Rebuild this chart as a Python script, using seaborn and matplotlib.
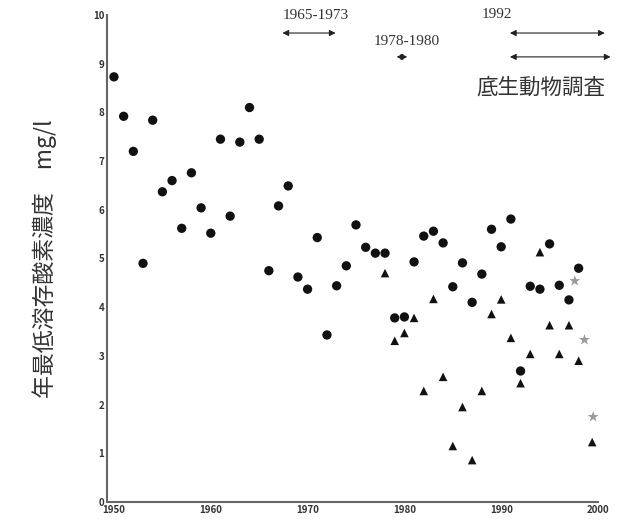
import pandas as pd
import numpy as np
import matplotlib
matplotlib.use('Agg')
import matplotlib.pyplot as plt
import seaborn as sns

# 年最低溶存酸素濃度 (mg/l) - 読み取り値
anos_circulo = list(range(1950, 1999))
valores_circulo = [8.73, 7.92, 7.20, 4.90, 7.84, 6.37, 6.60, 5.62, 6.76, 6.04,
                   5.52, 7.45, 5.87, 7.39, 8.10, 7.45, 4.75, 6.08, 6.49, 4.62,
                   4.37, 5.43, 3.43, 4.44, 4.85, 5.69, 5.23, 5.11, 5.11, 3.78,
                   3.80, 4.93, 5.46, 5.56, 5.32, 4.42, 4.91, 4.10, 4.68, 5.60,
                   5.24, 5.81, 2.69, 4.43, 4.37, 5.30, 4.45, 4.15, 4.80]

anos_triangulo = [1978, 1979, 1980, 1981, 1982, 1983, 1984, 1985, 1986, 1987, 1988,
                  1989, 1990, 1991, 1992, 1993, 1994, 1995, 1996, 1997, 1998, 1999.4]
valores_triangulo = [4.70, 3.31, 3.47, 3.78, 2.28, 4.17, 2.57, 1.15, 1.95, 0.86, 2.28,
                     3.86, 4.16, 3.37, 2.44, 3.04, 5.13, 3.63, 3.04, 3.63, 2.90, 1.23]

anos_estrela = [1997.6, 1998.6, 1999.5]
valores_estrela = [4.54, 3.33, 1.75]

# periodos de levantamento (inicio, fim, altura)
periodos = [(1967.4, 1972.9, 9.63), (1979.2, 1980.3, 9.14),
            (1990.9, 2000.7, 9.63), (1990.9, 2001.3, 9.14)]

df = pd.concat([
    pd.DataFrame({'ano': anos_circulo, 'valor': valores_circulo, 'tipo': 'c'}),
    pd.DataFrame({'ano': anos_triangulo, 'valor': valores_triangulo, 'tipo': 't'}),
    pd.DataFrame({'ano': anos_estrela, 'valor': valores_estrela, 'tipo': 's'}),
], ignore_index=True)

sns.set_style('white')
plt.rcParams['font.family'] = ['Noto Sans CJK JP', 'DejaVu Sans']

fig = plt.figure(figsize=(6.3, 5.25), dpi=100)
ax = fig.add_axes([107 / 630, 1 - 502 / 525, 491 / 630, 487 / 525])

sns.scatterplot(data=df, x='ano', y='valor', hue='tipo', style='tipo',
                hue_order=['c', 't', 's'], style_order=['c', 't', 's'],
                palette={'c': '#111111', 't': '#111111', 's': '#9a9a9a'},
                markers={'c': 'o', 't': '^', 's': '*'},
                size='tipo', sizes={'c': 45, 't': 38, 's': 70},
                edgecolor='none', legend=False, ax=ax, clip_on=False)

ax.set_xlim(1949.28, 2000)
ax.set_ylim(0, 10)
ax.set_xticks([1950, 1960, 1970, 1980, 1990, 2000])
ax.set_xticks([1955, 1965, 1975, 1985, 1995], minor=True)
ax.set_yticks(range(0, 11))
ax.tick_params(axis='both', which='both', direction='in', length=5, width=1,
               color='#555555', labelsize=7, pad=2)
for lab in ax.get_xticklabels() + ax.get_yticklabels():
    lab.set_fontweight('bold')
    lab.set_color('#333333')
for s in ['top', 'right']:
    ax.spines[s].set_visible(False)
for s in ['left', 'bottom']:
    ax.spines[s].set_color('#666666')
    ax.spines[s].set_linewidth(1.5)
ax.set_xlabel('')
ax.set_ylabel('年最低溶存酸素濃度　mg/l', fontsize=16.5, color='#333333', labelpad=26)

for x0, x1, y in periodos:
    ax.annotate('', xy=(x1, y), xytext=(x0, y), annotation_clip=False,
                arrowprops=dict(arrowstyle='<|-|>', color='#222222', lw=0.8,
                                mutation_scale=9, shrinkA=0, shrinkB=0))

serif = ['Liberation Serif', 'DejaVu Serif']
ax.text(1970.8, 9.98, '1965-1973', family=serif, fontsize=11, ha='center', va='center', color='#333333')
ax.text(1980.2, 9.45, '1978-1980', family=serif, fontsize=11, ha='center', va='center', color='#333333')
ax.text(1989.6, 10.0, '1992', family=serif, fontsize=11, ha='center', va='center', color='#333333')
ax.text(1994.1, 8.5, '底生動物調査', fontsize=15.5, ha='center', va='center', color='#333333')

fig.savefig('out.png', dpi=100)
